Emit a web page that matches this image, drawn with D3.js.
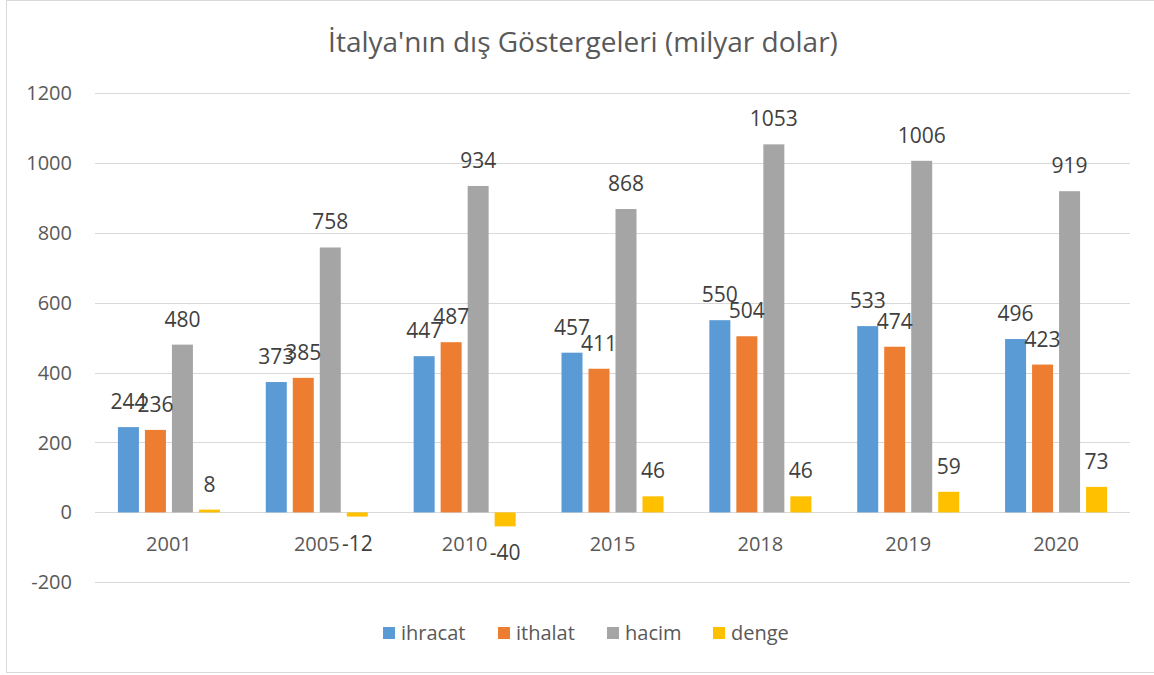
<!DOCTYPE html>
<html>
<head>
<meta charset="utf-8">
<script src="https://cdn.jsdelivr.net/npm/d3@7"></script>
<style>
  html, body { margin: 0; padding: 0; background: #fff; }
  svg { display: block; }
  text { font-family: "Open Sans", "Noto Sans", sans-serif; fill: #595959; }
</style>
</head>
<body>
<svg id="chart" width="1154" height="675"></svg>
<script>
// Data
const categories = ["2001", "2005", "2010", "2015", "2018", "2019", "2020"];
const seriesNames = ["ihracat", "ithalat", "hacim", "denge"];
const ihracat = [244, 373, 447, 457, 550, 533, 496];
const ithalat = [236, 385, 487, 411, 504, 474, 423];
const hacim   = [480, 758, 934, 868, 1053, 1006, 919];
const denge   = [8, -12, -40, 46, 46, 59, 73];
const yTicks  = [-200, 0, 200, 400, 600, 800, 1000, 1200];
const title   = "İtalya'nın dış Göstergeleri (milyar dolar)";

const colors = { ihracat: "#5B9BD5", ithalat: "#ED7D31", hacim: "#A5A5A5", denge: "#FFC000" };
const values = { ihracat, ithalat, hacim, denge };

const svg = d3.select("#chart");

// chart border
svg.append("rect")
  .attr("x", 6.5).attr("y", 0.5).attr("width", 1160).attr("height", 672)
  .attr("fill", "none").attr("stroke", "#D9D9D9").attr("stroke-width", 1);

svg.append("text")
  .attr("x", 583).attr("y", 52)
  .attr("text-anchor", "middle")
  .attr("font-size", 28)
  .text(title);

const plotL = 95, plotR = 1130;
const y = d3.scaleLinear().domain([-200, 1200]).range([582.3, 93]);
const x0 = d3.scaleBand().domain(categories).range([plotL, plotR]);
const x1 = d3.scaleBand().domain(seriesNames).range([-54, 54])
  .paddingInner(6 / 27).paddingOuter(3 / 27);

// gridlines + y labels
const yAxis = svg.append("g");
yAxis.selectAll("line").data(yTicks).enter().append("line")
  .attr("x1", plotL).attr("x2", plotR)
  .attr("y1", d => Math.round(y(d)) + 0.5).attr("y2", d => Math.round(y(d)) + 0.5)
  .attr("stroke", "#D9D9D9").attr("stroke-width", 1);
yAxis.selectAll("text").data(yTicks).enter().append("text")
  .attr("x", 72).attr("y", d => y(d) + 7)
  .attr("text-anchor", "end").attr("font-size", 20)
  .text(d => d);

// x category labels
svg.append("g").selectAll("text").data(categories).enter().append("text")
  .attr("x", d => x0(d) + x0.bandwidth() / 2)
  .attr("y", 551)
  .attr("text-anchor", "middle").attr("font-size", 20)
  .text(d => d);

// bars
const rows = [];
categories.forEach((c, i) => {
  seriesNames.forEach(s => rows.push({ cat: c, series: s, v: values[s][i] }));
});
const barX = d => x0(d.cat) + x0.bandwidth() / 2 + x1(d.series);

svg.append("g").selectAll("rect").data(rows).enter().append("rect")
  .attr("x", barX)
  .attr("width", x1.bandwidth())
  .attr("y", d => Math.min(y(d.v), y(0)))
  .attr("height", d => Math.abs(y(d.v) - y(0)))
  .attr("fill", d => colors[d.series]);

// data labels
svg.append("g").selectAll("text").data(rows).enter().append("text")
  .attr("x", d => barX(d) + x1.bandwidth() / 2)
  .attr("y", d => d.v >= 0 ? y(d.v) - 18 : y(d.v) + 34)
  .attr("text-anchor", "middle").attr("font-size", 21)
  .style("fill", "#404040")
  .text(d => d.v);

// legend
const legendX = [383, 498, 607, 713];
const legend = svg.append("g").selectAll("g").data(seriesNames).enter().append("g")
  .attr("transform", (d, i) => `translate(${legendX[i]},627)`);
legend.append("rect").attr("width", 12).attr("height", 12).attr("fill", d => colors[d]);
legend.append("text").attr("x", 18).attr("y", 13).attr("font-size", 20).text(d => d);
</script>
</body>
</html>
